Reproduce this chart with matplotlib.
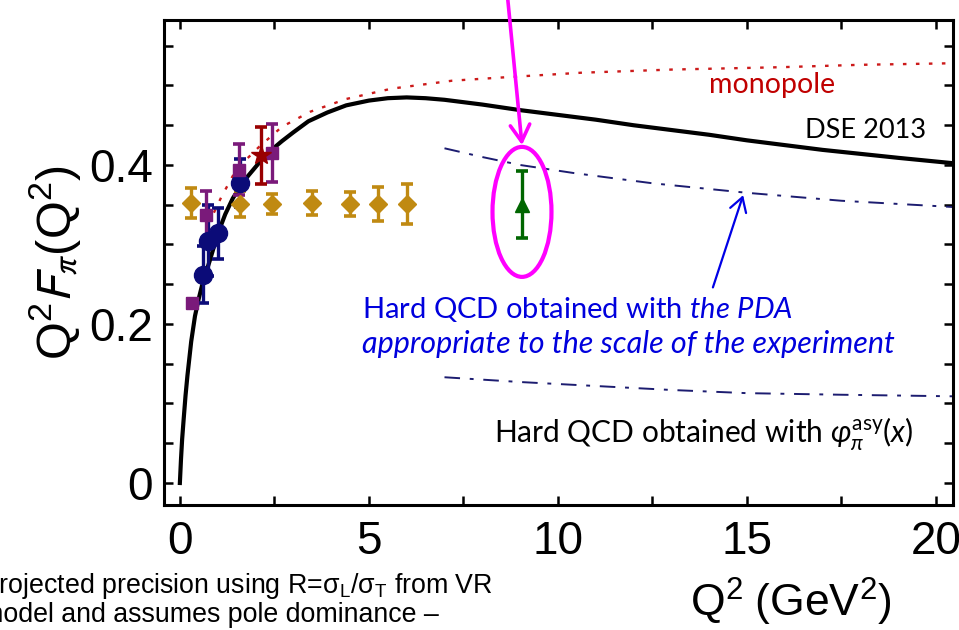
import matplotlib
matplotlib.use("Agg")
import matplotlib.pyplot as plt
from matplotlib.patches import Ellipse
from matplotlib.ticker import MultipleLocator

# DSE 2013 prediction
dse_q2 = [0.0, 0.03, 0.06, 0.1, 0.15, 0.2, 0.3, 0.4, 0.5, 0.6, 0.8, 1.0, 1.2, 1.4, 1.6,
          1.8, 2.1, 2.4, 2.7, 3.0, 3.4, 3.9, 4.4, 5.0, 5.5, 6.0, 6.5, 7.0, 7.5, 8.0,
          9.0, 10.0, 11.0, 12.0, 13.0, 14.0, 15.0, 16.0, 17.0, 18.0, 19.0, 20.5]
dse_val = [0.0, 0.03, 0.055, 0.08, 0.11, 0.135, 0.178, 0.21, 0.232, 0.251, 0.281, 0.313,
           0.338, 0.358, 0.373, 0.386, 0.403, 0.418, 0.43, 0.441, 0.455, 0.466, 0.475,
           0.481, 0.484, 0.485, 0.484, 0.482, 0.479, 0.476, 0.469, 0.463, 0.457, 0.45,
           0.444, 0.438, 0.431, 0.425, 0.419, 0.414, 0.409, 0.402]

# monopole
mono_q2 = [0.9, 1.1, 1.5, 2.1, 2.7, 3.45, 4.4, 5.6, 7.2, 8.5, 10.6, 13.0, 15.9, 18.0, 20.5]
mono_val = [0.34, 0.36, 0.395, 0.423, 0.448, 0.467, 0.483, 0.496, 0.506, 0.51, 0.516,
            0.52, 0.523, 0.526, 0.528]

# hard QCD, PDA at the experimental scale
pda_q2 = [7.0, 8.0, 9.0, 10.4, 11.2, 12.5, 15.0, 17.5, 20.5]
pda_val = [0.421, 0.41, 0.40, 0.39, 0.385, 0.377, 0.365, 0.355, 0.347]

# hard QCD, asymptotic PDA
asy_q2 = [7.0, 9.0, 11.0, 13.0, 15.0, 17.5, 20.5]
asy_val = [0.133, 0.127, 0.122, 0.117, 0.113, 0.111, 0.109]

# existing data
fpi_q2 = [0.6, 0.75, 1.0, 1.6]
fpi_val = [0.262, 0.305, 0.314, 0.377]
fpi_err = [0.036, 0.045, 0.032, 0.03]

sq_q2 = [0.32, 0.7, 1.57, 2.45]
sq_val = [0.226, 0.337, 0.394, 0.415]
sq_err = [0.006, 0.03, 0.032, 0.036]

star_q2 = [2.15]
star_val = [0.412]
star_err = [0.036]

# 12 GeV projections
proj_q2 = [0.3, 1.6, 2.45, 3.5, 4.5, 5.25, 6.0]
proj_val = [0.352, 0.351, 0.351, 0.352, 0.351, 0.351, 0.351]
proj_err = [0.019, 0.016, 0.013, 0.015, 0.015, 0.021, 0.025]

new_q2 = [9.05]
new_val = [0.35]
new_err = [0.042]

plt.rcParams["font.family"] = "Liberation Sans"
plt.rcParams["mathtext.fontset"] = "custom"
plt.rcParams["mathtext.rm"] = "Lato"
plt.rcParams["mathtext.it"] = "Lato:italic"
plt.rcParams["mathtext.fallback"] = "stixsans"

fig = plt.figure(figsize=(9.59, 6.3), dpi=100)
ax = fig.add_axes([0.171, 0.1984, 0.8227, 0.7699])

ax.plot(mono_q2, mono_val, color="#cc1a1a", lw=1.7, dashes=(1.5, 4), zorder=2)
ax.plot(pda_q2, pda_val, color="#1c1c70", lw=1.4, dashes=(8, 5, 2, 5), zorder=2)
ax.plot(asy_q2, asy_val, color="#1c1c70", lw=1.4, dashes=(8, 5, 2, 5), zorder=2)
ax.plot(dse_q2, dse_val, color="black", lw=3.0, zorder=3)

eb = dict(elinewidth=2.4, capsize=4.5, capthick=2.6, linestyle="none", zorder=4)
ax.errorbar(fpi_q2, fpi_val, yerr=fpi_err, fmt="o", color="#0b0b78", ms=13, **eb)
ax.errorbar(proj_q2, proj_val, yerr=proj_err, fmt="D", color="#c08a12", ms=9, **eb)
ax.errorbar(sq_q2, sq_val, yerr=sq_err, fmt="s", color="#7a1a7a", ms=9, **eb)
ax.errorbar(star_q2, star_val, yerr=star_err, fmt="*", color="#990000", ms=15, **eb)
ax.errorbar(new_q2, new_val, yerr=new_err, fmt="^", color="#006600", ms=10, **eb)

# highlight the new point
ax.add_patch(Ellipse((9.05, 0.341), 1.56, 0.1635, fill=False, edgecolor="#ff00ff",
                     lw=3, zorder=5))
ax.annotate("", xy=(9.05, 0.425), xytext=(8.65, 0.62), annotation_clip=False,
            arrowprops=dict(arrowstyle="->,head_length=0.6,head_width=0.35",
                            color="#ff00ff", lw=2.6, mutation_scale=20,
                            shrinkA=0, shrinkB=0))
ax.annotate("", xy=(14.9, 0.362), xytext=(14.1, 0.246),
            arrowprops=dict(arrowstyle="->,head_length=0.5,head_width=0.3",
                            color="#0000e6", lw=1.6, mutation_scale=20,
                            shrinkA=0, shrinkB=0))

ax.text(15.66, 0.50, "monopole", color="#c00000", family="Lato", fontsize=20.5,
        ha="center", va="center")
ax.text(18.15, 0.443, "DSE 2013", color="black", family="Lato", fontsize=19.5,
        ha="center", va="center")
ax.text(4.81, 0.2075, r"Hard QCD obtained with $\mathit{the\ PDA}$", color="#0000dd",
        family="Lato", fontsize=21, ha="left", va="baseline")
ax.text(4.81, 0.1635, "appropriate to the scale of the experiment", color="#0000dd",
        family="Lato", style="italic", fontsize=22, ha="left", va="baseline")
ax.text(8.3, 0.0516, r"Hard QCD obtained with $\varphi_\pi^{\mathrm{asy}}(x)$",
        color="black", family="Lato", fontsize=21.5, ha="left", va="baseline")

ax.set_xlim(-0.42, 20.45)
ax.set_ylim(-0.0277, 0.5824)
ax.set_xticks([0, 5, 10, 15, 20])
ax.set_yticks([0, 0.2, 0.4])
ax.set_yticklabels(["0", "0.2", "0.4"])
ax.xaxis.set_minor_locator(MultipleLocator(2.5))
ax.yaxis.set_minor_locator(MultipleLocator(0.05))
ax.tick_params(which="both", direction="in", top=True, right=True, length=6.5,
               width=1.8, labelsize=33)
ax.tick_params(axis="x", pad=11)
ax.tick_params(axis="y", pad=8)
for sp in ax.spines.values():
    sp.set_linewidth(2.2)

ax.set_ylabel(r"$\mathregular{Q^2}F_\pi\mathregular{(Q^2)}$", fontsize=35,
              math_fontfamily="stixsans", labelpad=4)

fig.text(0.825, 0.0206, r"$\mathregular{Q^2\ (GeV^2)}$", fontsize=32, ha="center",
         va="baseline", math_fontfamily="stixsans")

# footnote on the projections
fig.text(-19 / 959, 1 - 593 / 630,
         "Projected precision using R=$\\mathregular{\\sigma_L/\\sigma_T}$ from VR",
         fontsize=19.3, ha="left", va="baseline", math_fontfamily="stixsans")
fig.text(-19 / 959, 1 - 622 / 630, "model and assumes pole dominance \u2013",
         fontsize=19.3, ha="left", va="baseline")

fig.savefig("out.png", dpi=100)
